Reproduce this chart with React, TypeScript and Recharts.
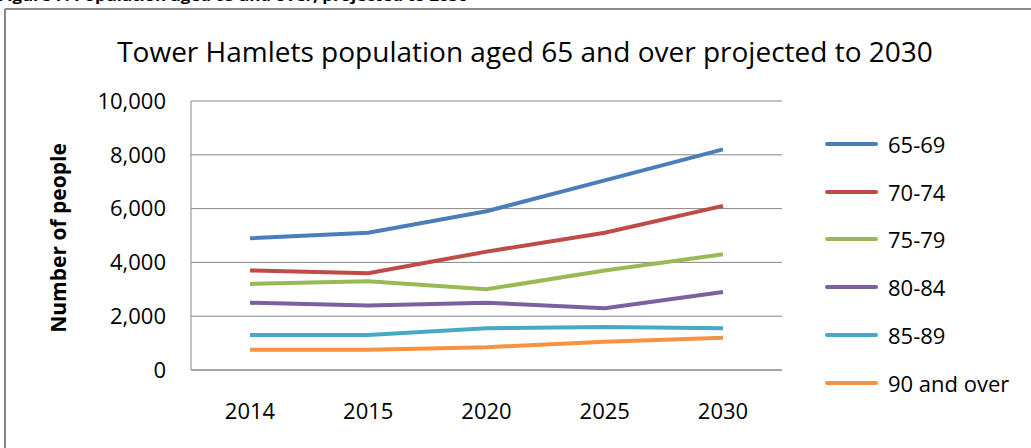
import { LineChart, Line, XAxis, YAxis, CartesianGrid } from "recharts";

const years = ["2014", "2015", "2020", "2025", "2030"];
const age65to69 = [4900, 5100, 5900, 7050, 8200];
const age70to74 = [3700, 3600, 4400, 5100, 6100];
const age75to79 = [3200, 3300, 3000, 3700, 4300];
const age80to84 = [2500, 2400, 2500, 2300, 2900];
const age85to89 = [1300, 1300, 1550, 1600, 1550];
const age90plus = [750, 750, 850, 1050, 1200];
const yTicks = [0, 2000, 4000, 6000, 8000, 10000];

const series = [
  { key: "65-69", values: age65to69, color: "#4A7EBB" },
  { key: "70-74", values: age70to74, color: "#BE4B48" },
  { key: "75-79", values: age75to79, color: "#98B954" },
  { key: "80-84", values: age80to84, color: "#7D60A0" },
  { key: "85-89", values: age85to89, color: "#46AAC5" },
  { key: "90 and over", values: age90plus, color: "#F69240" },
];

const data = years.map((year, i) => {
  const row: Record<string, string | number> = { year };
  series.forEach((s) => {
    row[s.key] = s.values[i];
  });
  return row;
});

const font = "'Open Sans', sans-serif";

// legend drawn outside the chart so it doesn't eat plot width
const LegendList = () => (
  <div style={{ position: "absolute", left: 825, top: 120, fontFamily: font, fontSize: 22, color: "#000" }}>
    {series.map((s) => (
      <div key={s.key} style={{ display: "flex", alignItems: "center", height: 47.8 }}>
        <div style={{ width: 53, height: 4, borderRadius: 2, background: s.color, marginRight: 10 }} />
        <span>{s.key}</span>
      </div>
    ))}
  </div>
);

const YLabel = () => (
  <text
    x={66}
    y={238}
    transform="rotate(-90, 66, 238)"
    textAnchor="middle"
    fontFamily={font}
    fontWeight="bold"
    fontSize={21}
    fill="#000"
  >
    Number of people
  </text>
);

export default function App() {
  return (
    <div style={{ position: "fixed", left: 0, top: 0, width: 1031, height: 448, overflow: "hidden", background: "#fff" }}>
      <svg width={1031} height={448} style={{ position: "absolute", left: 0, top: 0 }}>
        <text x={-2} y={1} fontFamily={font} fontWeight="bold" fontSize={14} fill="#000" textLength={470} lengthAdjust="spacingAndGlyphs">
          Figure 7: Population aged 65 and over, projected to 2030
        </text>
        <line x1={5} y1={9} x2={1031} y2={9} stroke="#898989" strokeWidth={2} />
        <line x1={5} y1={9} x2={5} y2={448} stroke="#898989" strokeWidth={2} />
        <text x={525} y={62} textAnchor="middle" fontFamily={font} fontSize={28} fill="#000">
          Tower Hamlets population aged 65 and over projected to 2030
        </text>
      </svg>
      <div style={{ position: "absolute", left: 0, top: 0 }}>
        <LineChart width={1031} height={448} data={data} margin={{ top: 101, right: 249, bottom: 38, left: 91 }}>
          <CartesianGrid vertical={false} stroke="#868686" />
          <XAxis
            dataKey="year"
            height={40}
            padding={{ left: 59, right: 59 }}
            axisLine={{ stroke: "#868686" }}
            tickLine={false}
            tickSize={0}
            tickMargin={33}
            tick={{ fontFamily: font, fontSize: 22, fill: "#000" }}
          />
          <YAxis
            width={100}
            domain={[0, 10000]}
            ticks={yTicks}
            interval={0}
            axisLine={{ stroke: "#868686" }}
            tickLine={false}
            tickSize={0}
            tickMargin={25}
            tickFormatter={(v: number) => v.toLocaleString("en-US")}
            tick={{ fontFamily: font, fontSize: 22, fill: "#000" }}
            label={<YLabel />}
          />
          {series.map((s) => (
            <Line
              key={s.key}
              type="linear"
              dataKey={s.key}
              stroke={s.color}
              strokeWidth={4}
              dot={false}
              isAnimationActive={false}
            />
          ))}
        </LineChart>
      </div>
      <LegendList />
    </div>
  );
}
